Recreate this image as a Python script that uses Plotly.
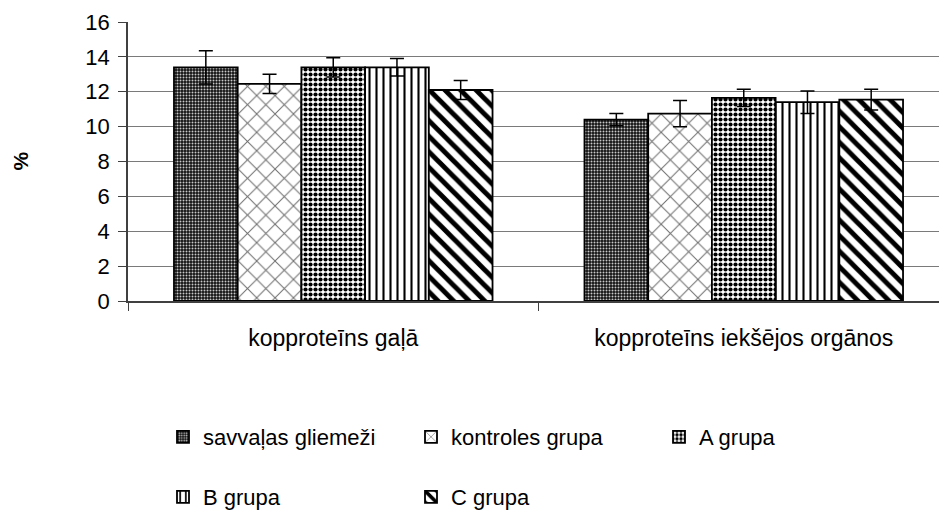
import plotly.graph_objects as go

categories = ["kopproteīns gaļā", "kopproteīns iekšējos orgānos"]
series_names = ["savvaļas gliemeži", "kontroles grupa", "A grupa", "B grupa", "C grupa"]
savvalas = [13.4, 10.4]
savvalas_err = [0.95, 0.35]
kontroles = [12.45, 10.75]
kontroles_err = [0.55, 0.75]
a_grupa = [13.4, 11.65]
a_grupa_err = [0.55, 0.5]
b_grupa = [13.4, 11.4]
b_grupa_err = [0.5, 0.65]
c_grupa = [12.1, 11.55]
c_grupa_err = [0.55, 0.6]
y_ticks = [0, 2, 4, 6, 8, 10, 12, 14, 16]

values = [savvalas, kontroles, a_grupa, b_grupa, c_grupa]
errors = [savvalas_err, kontroles_err, a_grupa_err, b_grupa_err, c_grupa_err]

patterns = [
    dict(shape=".", bgcolor="#111111", fgcolor="#c8c8c8", size=3, solidity=0.35, fillmode="replace"),
    dict(shape="x", bgcolor="white", fgcolor="#6e6e6e", size=13, solidity=0.15, fillmode="replace"),
    dict(shape=".", bgcolor="white", fgcolor="black", size=5, solidity=0.55, fillmode="replace"),
    dict(shape="|", bgcolor="white", fgcolor="black", size=7, solidity=0.3, fillmode="replace"),
    dict(shape="\\", bgcolor="white", fgcolor="black", size=11, solidity=0.45, fillmode="replace"),
]
legends = ["legend", "legend", "legend", "legend2", "legend2"]

W, H = 939, 510
ML, MT, MB = 128, 22, 209

fig = go.Figure()
for name, v, e, p, lg in zip(series_names, values, errors, patterns, legends):
    fig.add_trace(go.Bar(
        x=categories, y=v, name=name,
        marker=dict(color="white", pattern=p, line=dict(color="black", width=1.8)),
        error_y=dict(type="data", array=e, visible=True, color="black", thickness=1.5, width=7),
        legend=lg,
    ))

font_family = "Liberation Sans, Arial, sans-serif"
axis_col = "#404040"

leg_common = dict(
    orientation="h", xref="container", yref="container", xanchor="left", yanchor="middle",
    font=dict(family=font_family, size=22, color="black"),
    entrywidth=203, entrywidthmode="pixels", itemwidth=30, bgcolor="rgba(0,0,0,0)",
    traceorder="normal",
)

fig.update_layout(
    width=W, height=H,
    margin=dict(l=ML, r=0, t=MT, b=MB, pad=0, autoexpand=False),
    paper_bgcolor="white", plot_bgcolor="white",
    barmode="group", bargap=0.224, bargroupgap=0,
    font=dict(family=font_family, size=20, color="black"),
    showlegend=True,
    legend=dict(leg_common, x=163 / W, y=1 - 437 / H),
    legend2=dict(leg_common, x=163 / W, y=1 - 497 / H),
    xaxis=dict(
        type="category", range=[-0.5, 1.5 - 10 / 410],
        showline=True, linecolor=axis_col, linewidth=1.5,
        ticks="outside", tickson="boundaries", ticklen=8, tickcolor=axis_col, tickwidth=1,
        showgrid=False, ticklabelstandoff=16,
        tickfont=dict(family=font_family, size=23, color="black"),
    ),
    yaxis=dict(
        range=[0, 16], tickvals=y_ticks,
        showline=True, linecolor=axis_col, linewidth=1.5,
        ticks="outside", ticklen=8, tickcolor=axis_col, tickwidth=1,
        showgrid=True, gridcolor="#7a7a7a", gridwidth=1, zeroline=False,
        ticklabelstandoff=4,
        tickfont=dict(family=font_family, size=22, color="black"),
    ),
    annotations=[dict(
        text="<b>%</b>", textangle=-90, xref="paper", yref="paper",
        x=(20 - ML) / (W - ML), y=0.5, xanchor="center", yanchor="middle",
        showarrow=False, font=dict(family=font_family, size=21, color="black"),
    )],
)

fig.write_html(
    "out.html",
    config={"displayModeBar": False},
    post_script="document.body.style.margin='0';document.body.style.overflow='hidden';",
)
